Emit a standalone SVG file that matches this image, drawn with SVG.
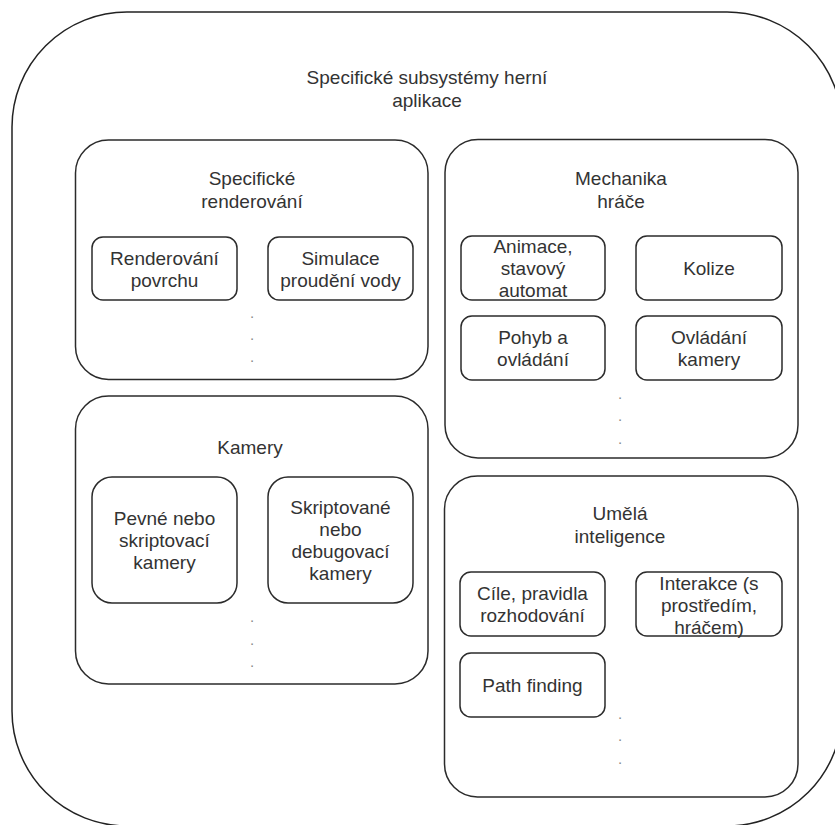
<svg xmlns="http://www.w3.org/2000/svg" width="835" height="825" viewBox="0 0 835 825">
<style>
.box{fill:#fff;stroke:#2b2b2b;stroke-width:1.5}
.outer{fill:#fff;stroke:#222;stroke-width:1.5}
.t{font-family:"Liberation Sans",Arial,sans-serif;font-size:19px;fill:#333;text-anchor:middle}
.dot{font-family:"Liberation Sans",Arial,sans-serif;font-size:15px;fill:#888;text-anchor:middle}
</style>
<rect width="835" height="825" fill="#fff"/>
<g id="outer">
<rect class="outer" x="12" y="12" width="830" height="814" rx="115" ry="115"/>
<text class="t" x="427" y="84">Specifické subsystémy herní</text>
<text class="t" x="427" y="107">aplikace</text>
</g>
<g id="specificke-renderovani">
<rect class="box" x="75.5" y="140" width="352.5" height="239.5" rx="33" ry="33"/>
<text class="t" x="252" y="185">Specifické</text>
<text class="t" x="252" y="208">renderování</text>
<text class="dot" x="252" y="318">.</text>
<text class="dot" x="252" y="340">.</text>
<text class="dot" x="252" y="362">.</text>
</g>
<g id="renderovani-povrchu">
<rect class="box" x="92" y="237" width="145" height="63" rx="11" ry="11"/>
<text class="t" x="164.5" y="265">Renderování</text>
<text class="t" x="164.5" y="287">povrchu</text>
</g>
<g id="simulace-proudeni-vody">
<rect class="box" x="268" y="237" width="145" height="63" rx="11" ry="11"/>
<text class="t" x="340.5" y="265">Simulace</text>
<text class="t" x="340.5" y="287">proudění vody</text>
</g>
<g id="mechanika-hrace">
<rect class="box" x="445" y="139.5" width="353" height="318.5" rx="33" ry="33"/>
<text class="t" x="621" y="185">Mechanika</text>
<text class="t" x="621" y="208">hráče</text>
<text class="dot" x="620" y="399">.</text>
<text class="dot" x="620" y="421">.</text>
<text class="dot" x="620" y="444">.</text>
</g>
<g id="animace">
<rect class="box" x="461" y="236" width="144" height="64" rx="11" ry="11"/>
<text class="t" x="533" y="253">Animace,</text>
<text class="t" x="533" y="275">stavový</text>
<text class="t" x="533" y="297">automat</text>
</g>
<g id="kolize">
<rect class="box" x="636" y="236" width="146" height="64" rx="11" ry="11"/>
<text class="t" x="709" y="275">Kolize</text>
</g>
<g id="pohyb-a-ovladani">
<rect class="box" x="461" y="316" width="144" height="64" rx="11" ry="11"/>
<text class="t" x="533" y="344">Pohyb a</text>
<text class="t" x="533" y="366">ovládání</text>
</g>
<g id="ovladani-kamery">
<rect class="box" x="636" y="316" width="146" height="64" rx="11" ry="11"/>
<text class="t" x="709" y="344">Ovládání</text>
<text class="t" x="709" y="366">kamery</text>
</g>
<g id="kamery">
<rect class="box" x="75.5" y="396" width="352.5" height="288" rx="33" ry="33"/>
<text class="t" x="250" y="454">Kamery</text>
<text class="dot" x="252" y="622">.</text>
<text class="dot" x="252" y="645">.</text>
<text class="dot" x="252" y="667">.</text>
</g>
<g id="pevne-kamery">
<rect class="box" x="92" y="477" width="145" height="126" rx="20" ry="20"/>
<text class="t" x="164.5" y="525">Pevné nebo</text>
<text class="t" x="164.5" y="547">skriptovací</text>
<text class="t" x="164.5" y="569">kamery</text>
</g>
<g id="skriptovane-kamery">
<rect class="box" x="268" y="477" width="145" height="126" rx="20" ry="20"/>
<text class="t" x="340.5" y="514">Skriptované</text>
<text class="t" x="340.5" y="536">nebo</text>
<text class="t" x="340.5" y="558">debugovací</text>
<text class="t" x="340.5" y="580">kamery</text>
</g>
<g id="umela-inteligence">
<rect class="box" x="444.5" y="476" width="353.5" height="321" rx="33" ry="33"/>
<text class="t" x="620" y="520">Umělá</text>
<text class="t" x="620" y="543">inteligence</text>
<text class="dot" x="620" y="719">.</text>
<text class="dot" x="620" y="741">.</text>
<text class="dot" x="620" y="764">.</text>
</g>
<g id="cile-pravidla">
<rect class="box" x="460" y="572" width="145" height="64" rx="11" ry="11"/>
<text class="t" x="532.5" y="600">Cíle, pravidla</text>
<text class="t" x="532.5" y="622">rozhodování</text>
</g>
<g id="interakce">
<rect class="box" x="636" y="572" width="146" height="64" rx="11" ry="11"/>
<text class="t" x="709" y="590">Interakce (s</text>
<text class="t" x="709" y="612">prostředím,</text>
<text class="t" x="709" y="634">hráčem)</text>
</g>
<g id="path-finding">
<rect class="box" x="460" y="653" width="145" height="64" rx="11" ry="11"/>
<text class="t" x="532.5" y="692">Path finding</text>
</g>
<g id="connectors"/>
</svg>
